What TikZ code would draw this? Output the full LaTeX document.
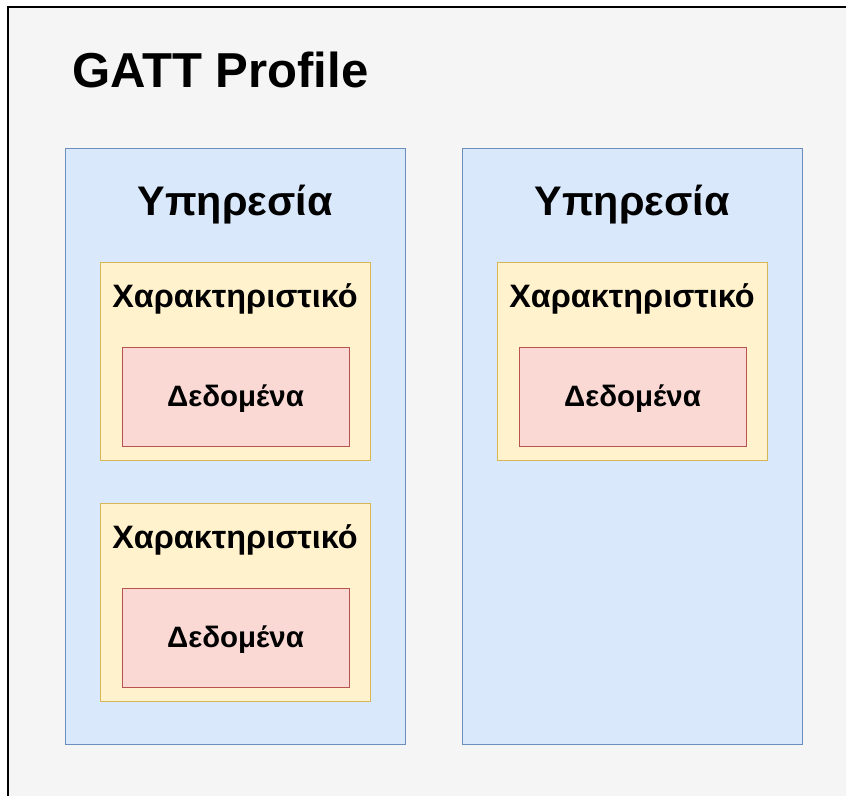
\documentclass[tikz,border=0pt]{standalone}
\usepackage{fontspec}
\setmainfont{Liberation Sans}
\definecolor{framefill}{HTML}{F5F5F5}
\definecolor{svcfill}{HTML}{DAE8FC}
\definecolor{svcline}{HTML}{6C8EBF}
\definecolor{chrfill}{HTML}{FFF2CC}
\definecolor{chrline}{HTML}{D6B656}
\definecolor{datfill}{HTML}{FAD9D5}
\definecolor{datline}{HTML}{B85450}
\tikzset{
  svcbox/.style={draw=svcline, fill=svcfill, line width=0.9pt},
  chrbox/.style={draw=chrline, fill=chrfill, line width=0.9pt},
  datbox/.style={draw=datline, fill=datfill, line width=0.9pt},
  svclabel/.style={anchor=base, inner sep=0pt, font=\bfseries\fontsize{31}{36}\selectfont},
  chrlabel/.style={anchor=base, inner sep=0pt, font=\bfseries\fontsize{24.3}{28}\selectfont},
  datlabel/.style={anchor=base, inner sep=0pt, font=\bfseries\fontsize{22.1}{26}\selectfont},
}
\begin{document}
\begin{tikzpicture}[x=0.75pt, y=-0.75pt]
  \useasboundingbox (0,0) rectangle (846,796);
  \fill[white] (0,0) rectangle (846,796);
  % outer frame, running past the right and bottom edges
  \begin{scope}
    \clip (0,0) rectangle (846,796);
    \draw[fill=framefill, line width=1.3pt] (8,7) rectangle (860,810);
  \end{scope}
  \node[anchor=base west, inner sep=0pt, font=\bfseries\fontsize{36.8}{40}\selectfont] (title) at (72,87) {GATT Profile};

  % first service
  \node[svcbox, minimum width=340*0.75pt, minimum height=596*0.75pt, anchor=north west] (s1) at (65,148) {};
  \node[svclabel] (s1t) at (235,215) {Υπηρεσία};
  \node[chrbox, minimum width=270*0.75pt, minimum height=198*0.75pt, anchor=north west] (c1) at (100,262) {};
  \node[chrlabel] (c1t) at (235,307) {Χαρακτηριστικό};
  \node[datbox, minimum width=227*0.75pt, minimum height=99*0.75pt, anchor=north west] (d1) at (122,347) {};
  \node[datlabel] (d1t) at (235.5,406) {Δεδομένα};
  \node[chrbox, minimum width=270*0.75pt, minimum height=198*0.75pt, anchor=north west] (c2) at (100,503) {};
  \node[chrlabel] (c2t) at (235,548) {Χαρακτηριστικό};
  \node[datbox, minimum width=227*0.75pt, minimum height=99*0.75pt, anchor=north west] (d2) at (122,588) {};
  \node[datlabel] (d2t) at (235.5,647) {Δεδομένα};

  % second service
  \node[svcbox, minimum width=340*0.75pt, minimum height=596*0.75pt, anchor=north west] (s2) at (462,148) {};
  \node[svclabel] (s2t) at (632,215) {Υπηρεσία};
  \node[chrbox, minimum width=270*0.75pt, minimum height=198*0.75pt, anchor=north west] (c3) at (497,262) {};
  \node[chrlabel] (c3t) at (632,307) {Χαρακτηριστικό};
  \node[datbox, minimum width=227*0.75pt, minimum height=99*0.75pt, anchor=north west] (d3) at (519,347) {};
  \node[datlabel] (d3t) at (632.5,406) {Δεδομένα};
\end{tikzpicture}
\end{document}
